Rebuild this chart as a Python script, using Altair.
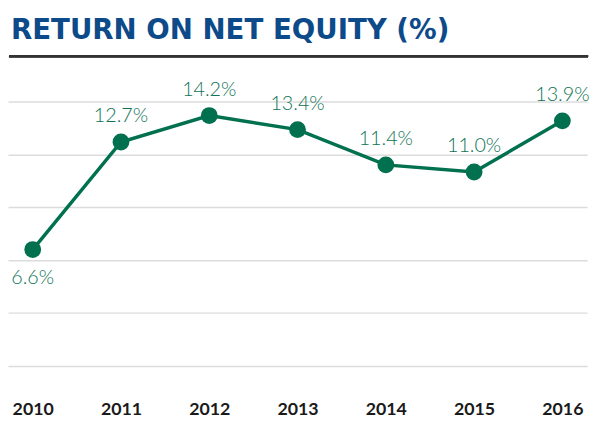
import altair as alt
import pandas as pd

years = ["2010", "2011", "2012", "2013", "2014", "2015", "2016"]
roe = [6.6, 12.7, 14.2, 13.4, 11.4, 11.0, 13.9]
labels = ["6.6%", "12.7%", "14.2%", "13.4%", "11.4%", "11.0%", "13.9%"]
grid_values = [0, 3, 6, 9, 12, 15]
title_text = ["RETURN ON NET EQUITY (%)"]

df = pd.DataFrame({"year": years, "roe": roe, "label": labels})
tdf = pd.DataFrame({"t": title_text})

GREEN = "#00704f"
TEXT_GREEN = "#0f7354"
W, H = 587, 314
YMAX = 17.57

x = alt.X("year:O", sort=years,
          scale=alt.Scale(type="point", padding=0.28),
          axis=alt.Axis(title=None, domain=False, ticks=False, tickSize=0,
                        labelAngle=0, labelFont="Lato", labelFontWeight="bold",
                        labelFontSize=18, labelColor="#1a1a1a",
                        labelBaseline="alphabetic", labelPadding=49))
y = alt.Y("roe:Q", scale=alt.Scale(domain=[0, YMAX], nice=False, zero=True),
          axis=alt.Axis(title=None, labels=False, ticks=False, domain=False,
                        values=grid_values, gridColor="#dcdcdc", gridWidth=1.5))

base = alt.Chart(df)
line = base.mark_line(color=GREEN, strokeWidth=3.5).encode(x=x, y=y)
pts = base.mark_point(filled=True, opacity=1, color=GREEN, size=290).encode(x=x, y=y)
txt_up = base.transform_filter(alt.datum.year != "2010").mark_text(
    font="Lato", fontSize=20, fontWeight=300, color=TEXT_GREEN,
    baseline="middle", dy=-26).encode(x=x, y=y, text="label:N")
txt_down = base.transform_filter(alt.datum.year == "2010").mark_text(
    font="Lato", fontSize=20, fontWeight=300, color=TEXT_GREEN,
    baseline="middle", dy=29).encode(x=x, y=y, text="label:N")
top_rule = alt.Chart(df).mark_rule(color="#333333", strokeWidth=2).encode(
    x=alt.value(1), x2=alt.value(W + 1), y=alt.value(0))
title = alt.Chart(tdf).mark_text(
    font="DejaVu Sans", fontSize=28, fontWeight="bold", color="#0d4a8a",
    align="left", baseline="alphabetic").encode(
    x=alt.value(3), y=alt.value(-17), text="t:N")

chart = alt.layer(top_rule, line, pts, txt_up, txt_down, title).properties(
    width=W, height=H,
    autosize=alt.AutoSizeParams(type="none"),
    padding={"left": 0, "top": 46, "right": 6, "bottom": 50},
).configure_view(stroke=None)

chart.save("out.html", embed_options={"renderer": "svg", "actions": False})
